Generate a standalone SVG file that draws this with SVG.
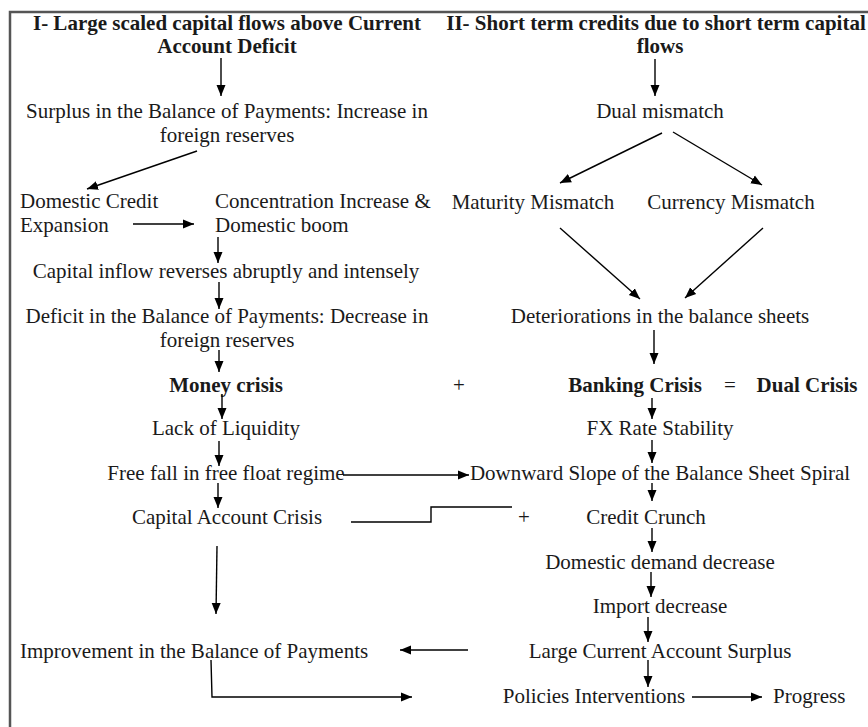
<svg xmlns="http://www.w3.org/2000/svg" width="868" height="727" viewBox="0 0 868 727">
<style>
text{font-family:"Liberation Serif","Times New Roman",serif;font-size:21px;fill:#1a1a1a}
.b{font-weight:bold}
.c{text-anchor:middle}
.ln{stroke:#000;stroke-width:1.4;fill:none}
.ar{stroke:#000;stroke-width:1.4;fill:none;marker-end:url(#ah)}
</style>
<defs>
<marker id="ah" markerUnits="userSpaceOnUse" markerWidth="12" markerHeight="12" viewBox="0 0 12 12" refX="11" refY="6" orient="auto">
<path d="M0,1.5 L11,6 L0,10.5 Z" fill="#000"/>
</marker>
</defs>
<rect width="868" height="727" fill="#fff"/>
<path d="M10,727 V12 H868" stroke="#555" stroke-width="2.5" fill="none"/>

<g id="h1"><text class="b c" x="227" y="30">I- Large scaled capital flows above Current</text><text class="b c" x="227" y="53">Account Deficit</text></g>
<g id="surplus"><text class="c" x="227" y="118">Surplus in the Balance of Payments: Increase in</text><text class="c" x="227" y="142">foreign reserves</text></g>
<g id="dce"><text x="20" y="208">Domestic Credit</text><text x="20" y="232">Expansion</text></g>
<g id="conc"><text x="215" y="208">Concentration Increase &amp;</text><text x="215" y="232">Domestic boom</text></g>
<g id="cinflow"><text class="c" x="226" y="278">Capital inflow reverses abruptly and intensely</text></g>
<g id="deficit"><text class="c" x="227" y="323">Deficit in the Balance of Payments: Decrease in</text><text class="c" x="227" y="347">foreign reserves</text></g>
<g id="money"><text class="b c" x="226" y="392">Money crisis</text></g>
<g id="lack"><text class="c" x="226" y="435">Lack of Liquidity</text></g>
<g id="freefall"><text class="c" x="226" y="480">Free fall in free float regime</text></g>
<g id="cac"><text class="c" x="227" y="524">Capital Account Crisis</text></g>
<g id="improve"><text x="20" y="658">Improvement in the Balance of Payments</text></g>

<g id="h2"><text class="b c" x="656" y="30">II- Short term credits due to short term capital</text><text class="b c" x="660" y="53">flows</text></g>
<g id="dual"><text class="c" x="660" y="118">Dual mismatch</text></g>
<g id="maturity"><text class="c" x="533" y="209">Maturity Mismatch</text></g>
<g id="currency"><text class="c" x="731" y="209">Currency Mismatch</text></g>
<g id="deter"><text class="c" x="660" y="323">Deteriorations in the balance sheets</text></g>
<g id="plus1"><text class="c" x="459" y="392">+</text></g>
<g id="banking"><text class="b c" x="635" y="392">Banking Crisis</text></g>
<g id="eq"><text class="c" x="730" y="392">=</text></g>
<g id="dualcrisis"><text class="b c" x="807" y="392">Dual Crisis</text></g>
<g id="fx"><text class="c" x="660" y="435">FX Rate Stability</text></g>
<g id="downward"><text class="c" x="660" y="480">Downward Slope of the Balance Sheet Spiral</text></g>
<g id="plus2"><text class="c" x="524" y="524">+</text></g>
<g id="crunch"><text class="c" x="646" y="524">Credit Crunch</text></g>
<g id="ddd"><text class="c" x="660" y="569">Domestic demand decrease</text></g>
<g id="import"><text class="c" x="660" y="613">Import decrease</text></g>
<g id="lcas"><text class="c" x="660" y="658">Large Current Account Surplus</text></g>
<g id="policies"><text class="c" x="594" y="703">Policies Interventions</text></g>
<g id="progress"><text x="773" y="703">Progress</text></g>

<g id="connectors">
<line class="ar" x1="221" y1="58" x2="221" y2="96"/>
<line class="ar" x1="197" y1="151" x2="87" y2="189"/>
<line class="ar" x1="133" y1="224" x2="194" y2="224"/>
<line class="ar" x1="218" y1="237" x2="218" y2="263"/>
<line class="ar" x1="219" y1="282" x2="219" y2="309"/>
<line class="ar" x1="219" y1="350" x2="219" y2="372"/>
<line class="ar" x1="222" y1="394" x2="222" y2="419"/>
<line class="ar" x1="219" y1="441" x2="219" y2="466"/>
<line class="ar" x1="343" y1="475" x2="469" y2="475"/>
<line class="ar" x1="218" y1="483" x2="218" y2="508"/>
<polyline class="ln" points="351,522 431,522 431,507 512,507"/>
<line class="ar" x1="217" y1="546" x2="216" y2="614"/>
<line class="ar" x1="468" y1="650" x2="400" y2="650"/>
<polyline class="ar" points="211,660 212,697 412,697"/>

<line class="ar" x1="655" y1="59" x2="655" y2="96"/>
<line class="ar" x1="662" y1="133" x2="560" y2="183"/>
<line class="ar" x1="673" y1="132" x2="762" y2="185"/>
<line class="ar" x1="560" y1="228" x2="640" y2="299"/>
<line class="ar" x1="763" y1="228" x2="685" y2="298"/>
<line class="ar" x1="654" y1="330" x2="654" y2="364"/>
<line class="ar" x1="652" y1="398" x2="652" y2="419"/>
<line class="ar" x1="652" y1="440" x2="652" y2="463"/>
<line class="ar" x1="652" y1="483" x2="652" y2="501"/>
<line class="ar" x1="652" y1="528" x2="652" y2="552"/>
<line class="ar" x1="651" y1="572" x2="651" y2="597"/>
<line class="ar" x1="648" y1="617" x2="648" y2="642"/>
<line class="ar" x1="648" y1="660" x2="648" y2="687"/>
<line class="ar" x1="692" y1="697" x2="762" y2="697"/>
</g>
</svg>
